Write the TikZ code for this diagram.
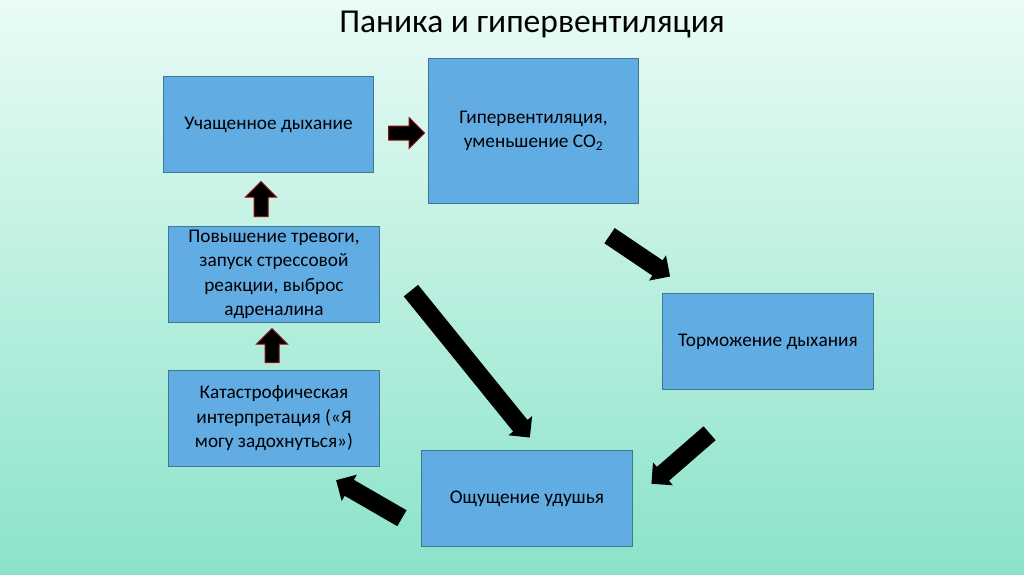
\documentclass[tikz,border=0pt]{standalone}
\usepackage{fontspec}
\setmainfont{Carlito}
\usetikzlibrary{shapes.arrows,calc}
\definecolor{bgtop}{HTML}{EAFBF6}
\definecolor{bgbot}{HTML}{8AE3C9}
\definecolor{boxfill}{HTML}{62ACE4}
\definecolor{boxline}{HTML}{3C7A8E}
\definecolor{arrred}{HTML}{8E1010}
\tikzset{
  stepbox/.style={draw=boxline, line width=0.9pt, fill=boxfill, anchor=north west,
    inner sep=0pt, align=center, font=\fontsize{19.3}{24.5}\selectfont},
  blkarrow/.style={single arrow, fill=black, draw=none, inner xsep=0pt, inner ysep=9pt,
    single arrow head extend=6pt, single arrow tip angle=90},
  redarrow/.style={single arrow, fill=black, draw=arrred, line width=1pt, inner xsep=0pt,
    inner ysep=6.5pt, single arrow head extend=8.5pt, single arrow tip angle=90}
}
\begin{document}
\begin{tikzpicture}[x=1pt,y=-1pt]
\shade[top color=bgtop, bottom color=bgbot] (0,0) rectangle (1024,574);
\useasboundingbox (0,0) rectangle (1024,574);
\node[font=\fontsize{33.5}{40}\selectfont] (title) at (532,24) {Паника и гипервентиляция};
% boxes
\node[stepbox, minimum width=210pt, minimum height=96pt] (b1) at (163,76) {Учащенное дыхание};
\node[stepbox, minimum width=210pt, minimum height=145pt] (b2) at (428,58) {Гипервентиляция,\\уменьшение CO\textsubscript{2}};
\node[stepbox, minimum width=211pt, minimum height=96pt] (b3) at (662,293) {Торможение дыхания};
\node[stepbox, minimum width=211pt, minimum height=96pt] (b4) at (421,450) {Ощущение удушья};
\node[stepbox, minimum width=211pt, minimum height=96pt] (b5) at (168,370) {Катастрофическая\\интерпретация («Я\\могу задохнуться»)};
\node[stepbox, minimum width=211pt, minimum height=96pt] (b6) at (168,226) {Повышение тревоги,\\запуск стрессовой\\реакции, выброс\\адреналина};
% arrow end points
\coordinate (r1) at (385,133); \coordinate (r2) at (421,133);
\coordinate (u1) at (261,220); \coordinate (u2) at (261,185);
\coordinate (v1) at (272,366); \coordinate (v2) at (272,332);
\coordinate (d1) at (606,233); \coordinate (d2) at (666,274);
\coordinate (e1) at (408,287); \coordinate (e2) at (527,434);
\coordinate (f1) at (713,430); \coordinate (f2) at (655,481);
\coordinate (g1) at (406,521); \coordinate (g2) at (340,482);
% arrows
\node[redarrow, minimum height=36pt] (ar1) at ($(r1)!0.5!(r2)$) {};
\node[redarrow, minimum height=35pt, rotate=90] (ar2) at ($(u1)!0.5!(u2)$) {};
\node[redarrow, minimum height=34pt, rotate=90] (ar3) at ($(v1)!0.5!(v2)$) {};
\node[blkarrow, minimum height=73pt, rotate=-34] (ar4) at ($(d1)!0.5!(d2)$) {};
\node[blkarrow, minimum height=189pt, rotate=-51] (ar5) at ($(e1)!0.5!(e2)$) {};
\node[blkarrow, minimum height=77pt, rotate=221] (ar6) at ($(f1)!0.5!(f2)$) {};
\node[blkarrow, minimum height=76pt, rotate=150] (ar7) at ($(g1)!0.5!(g2)$) {};
\end{tikzpicture}
\end{document}
